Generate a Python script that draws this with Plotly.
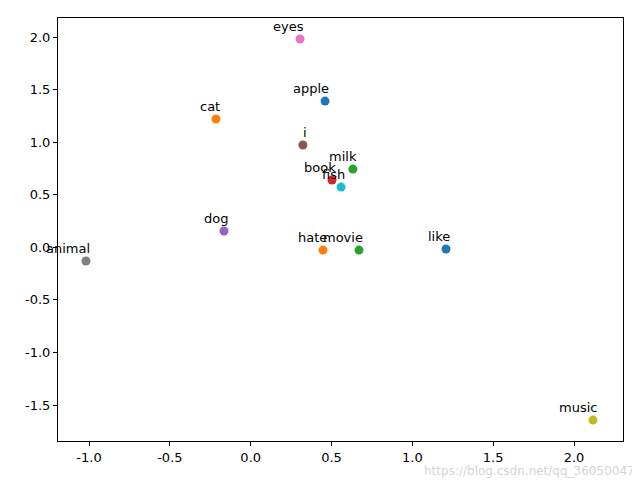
import plotly.graph_objects as go

words = ["apple", "cat", "milk", "book", "dog", "i", "eyes", "animal", "music", "fish",
         "like", "hate", "movie"]
xs = [0.460, -0.215, 0.632, 0.503, -0.165, 0.323, 0.305, -1.019, 2.117, 0.559,
      1.208, 0.447, 0.670]
ys = [1.391, 1.220, 0.744, 0.640, 0.155, 0.973, 1.981, -0.130, -1.643, 0.573,
      -0.016, -0.026, -0.026]

cycle = ['#1f77b4', '#ff7f0e', '#2ca02c', '#d62728', '#9467bd',
         '#8c564b', '#e377c2', '#7f7f7f', '#bcbd22', '#17becf']
colors = [cycle[i % len(cycle)] for i in range(len(words))]

x_ticks = [-1.0, -0.5, 0.0, 0.5, 1.0, 1.5, 2.0]
y_ticks = [-1.5, -1.0, -0.5, 0.0, 0.5, 1.0, 1.5, 2.0]

fig = go.Figure()
fig.add_trace(go.Scatter(
    x=xs, y=ys, mode='markers',
    marker=dict(size=9, color=colors, line=dict(width=0)),
    text=words, hoverinfo='text', showlegend=False
))

for w, x, y in zip(words, xs, ys):
    fig.add_annotation(x=x, y=y, text=w, showarrow=False,
                       xanchor='right', yanchor='bottom', xshift=6, yshift=3,
                       font=dict(size=13, color='black'))

# faint watermark from the source image, kept below the tick labels
fig.add_annotation(x=1.0, y=-0.092, xref='paper', yref='paper', xanchor='right', yanchor='bottom',
                   xshift=14, text="https://blog.csdn.net/qq_36050047",
                   showarrow=False, font=dict(size=12, color='rgba(200,200,200,0.8)'))

axis_style = dict(showline=True, linecolor='black', linewidth=1, mirror=True,
                  ticks='outside', ticklen=4, tickcolor='black', showgrid=False,
                  zeroline=False, automargin=False, tickfont=dict(size=13, color='black'))

# page body adds an 8px offset, so the figure is sized to fit inside it
fig.update_layout(
    width=632, height=472,
    plot_bgcolor='white', paper_bgcolor='white',
    font=dict(family='DejaVu Sans'),
    margin=dict(l=50, r=17, t=10, b=39),
    xaxis=dict(range=[-1.192, 2.303], tickvals=x_ticks,
               ticktext=[f"{v:.1f}" for v in x_ticks], **axis_style),
    yaxis=dict(range=[-1.842, 2.181], tickvals=y_ticks,
               ticktext=[f"{v:.1f}" for v in y_ticks], **axis_style),
)

fig.write_html("out.html")
